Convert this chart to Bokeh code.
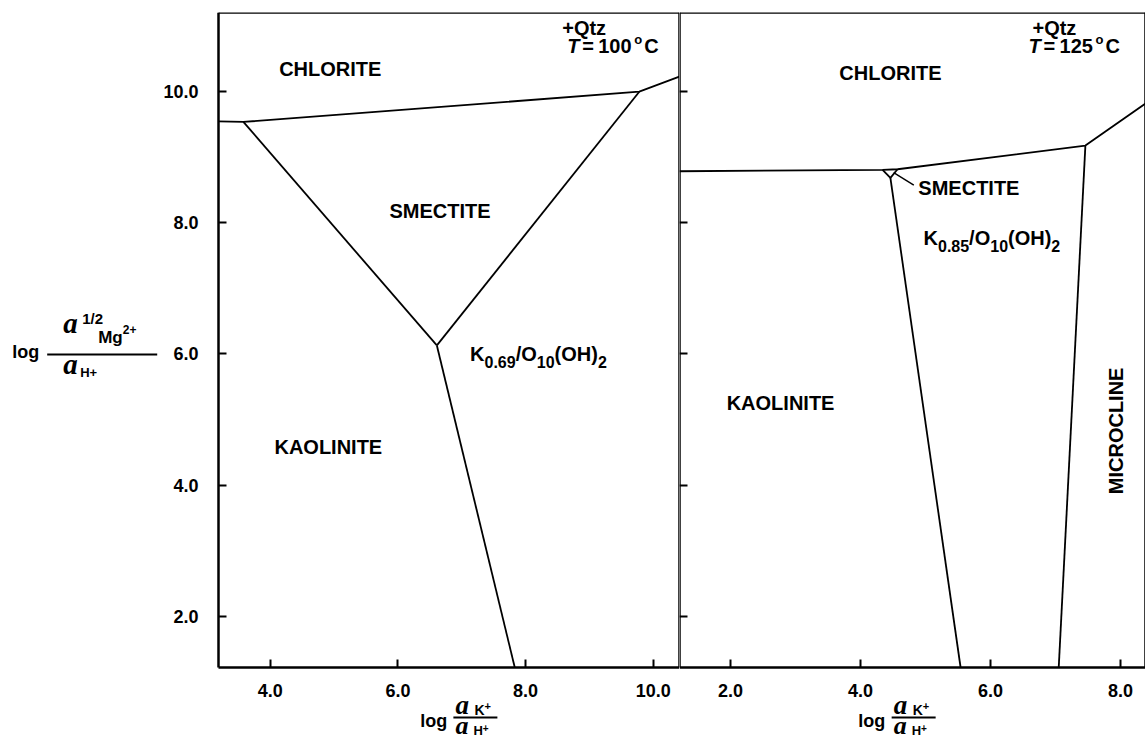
from bokeh.plotting import figure
from bokeh.layouts import row
from bokeh.models import Range1d, FixedTicker, PrintfTickFormatter, Label, Arrow, LinearAxis
from bokeh.embed import file_html
from bokeh.resources import INLINE

# ---------------- data ----------------
# Left panel: +Qtz, T = 100 C ; x = log(aK+/aH+), y = log(aMg2+^1/2 / aH+)
L_xlim = (3.19, 10.41)
L_xticks = [4.0, 6.0, 8.0, 10.0]
ylim = (1.23, 11.195)
yticks = [2.0, 4.0, 6.0, 8.0, 10.0]
L_chl_x = [3.19, 3.58, 9.78, 10.41]      # chlorite lower boundary
L_chl_y = [9.54, 9.53, 9.99, 10.22]
L_sk_x = [3.58, 6.61]                    # smectite / kaolinite
L_sk_y = [9.53, 6.13]
L_sm_x = [6.61, 9.78]                    # smectite / K-mica
L_sm_y = [6.13, 9.99]
L_km_x = [6.61, 7.83]                    # kaolinite / K-mica
L_km_y = [6.13, 1.23]

# Right panel: +Qtz, T = 125 C
R_xlim = (1.215, 8.385)
R_xticks = [2.0, 4.0, 6.0, 8.0]
R_chl_x = [1.215, 4.34, 4.57, 7.46, 8.385]  # chlorite lower boundary
R_chl_y = [8.78, 8.80, 8.81, 9.17, 9.81]
R_sk_x = [4.34, 4.46]                     # smectite / kaolinite
R_sk_y = [8.80, 8.68]
R_sm_x = [4.57, 4.46]                     # smectite / K-mica
R_sm_y = [8.81, 8.68]
R_km_x = [4.46, 5.54]                     # kaolinite / K-mica
R_km_y = [8.68, 1.23]
R_mm_x = [7.46, 7.05]                     # K-mica / microcline
R_mm_y = [9.17, 1.23]
R_lead_x = [4.51, 4.82]                   # leader line to SMECTITE label
R_lead_y = [8.76, 8.57]

# ---------------- layout ----------------
H = 742
TOP = 12
PXY = 65.73                       # px per y unit
Y0 = ylim[0] - (H - 667) / PXY    # frame extends below the x axis for the axis title
L_PX = 63.85
R_PX = 65.0
L_X0 = L_xlim[0] - 218 / L_PX     # frame extends left for the y-axis title

SANS = "Liberation Sans"
SERIF = "Liberation Serif"
# distance (in em) from the middle of the text box down to the baseline
K_MID = {SANS: 0.3465, SERIF: 0.3375}

W = {'K': .722, '0': .556, '1': .556, '2': .556, '3': .556, '4': .556, '5': .556,
     '6': .556, '7': .556, '8': .556, '9': .556, '.': .278, '/': .278, 'O': .778,
     '(': .333, ')': .333, 'H': .722, '+': .584, 'M': .833, 'g': .611, 'a': .5,
     'T': .611, '=': .584, ' ': .278, 'C': .722, 'l': .278, 'o': .611}


def tw(s, size):
    return sum(W.get(c, .6) for c in s) * size


def lab(p, x, y, text, size, align="center", font=SANS, style="bold",
        angle=0.0, x_offset=0):
    p.add_layout(Label(x=x, y=y, text=text, text_font=font,
                       text_font_size=f"{size}px", text_font_style=style,
                       text_align=align, text_baseline="middle",
                       text_color="black", angle=angle, x_offset=x_offset))


def on_base(y_base, size, font=SANS, dy=0.0):
    """data-y of the text-box middle so that the baseline sits dy px below y_base"""
    return y_base - dy / PXY + K_MID[font] * size / PXY


def compose(p, x, y, parts):
    """Texts on a common baseline y (data units).
    parts: (text, size, dy_px_down, font, style, advance_px or None)"""
    off = 0.0
    for text, size, dy, font, style, adv in parts:
        lab(p, x, on_base(y, size, font, dy), text, size, align="left",
            font=font, style=style, x_offset=off)
        off += adv if adv is not None else tw(text, size)


def style_axis(ax, ticks, fmt=True):
    ax.axis_line_width = 2.5
    ax.axis_line_color = "black"
    ax.major_tick_in = 8
    ax.major_tick_out = 0
    ax.major_tick_line_width = 2
    ax.minor_tick_line_color = None
    ax.major_label_text_font = SANS
    ax.major_label_text_font_size = "18px"
    ax.major_label_text_font_style = "bold"
    ax.major_label_text_color = "black"
    ax.ticker = FixedTicker(ticks=ticks)
    if fmt:
        ax.formatter = PrintfTickFormatter(format="%.1f")


def base_fig(width, xr, xticks, yaxis_at, ylabels):
    p = figure(width=width, height=H, x_range=Range1d(*xr), y_range=Range1d(Y0, ylim[1]),
               output_backend="svg", toolbar_location=None,
               min_border_left=0, min_border_right=0,
               min_border_top=TOP, min_border_bottom=0)
    p.xgrid.visible = False
    p.ygrid.visible = False
    p.background_fill_color = "white"
    p.border_fill_color = "white"
    p.outline_line_color = None
    xa, ya = p.xaxis[0], p.yaxis[0]
    style_axis(xa, xticks)
    xa.fixed_location = ylim[0]
    xa.bounds = (yaxis_at, xr[1])
    xa.major_label_standoff = 17
    style_axis(ya, yticks)
    ya.fixed_location = yaxis_at
    ya.bounds = ylim
    ya.major_label_standoff = 20
    if not ylabels:
        ya.major_label_overrides = {t: "" for t in yticks}
    # frame borders: top and right
    top = LinearAxis(fixed_location=ylim[1], bounds=(yaxis_at, xr[1]))
    style_axis(top, [], fmt=False)
    p.add_layout(top, "above")
    rgt = LinearAxis(fixed_location=xr[1], bounds=ylim)
    style_axis(rgt, [], fmt=False)
    p.add_layout(rgt, "right")
    return p


def formula(p, x, y, sub1):
    compose(p, x, y, [
        ("K", 20, 0, SANS, "bold", None),
        (sub1, 16, 7, SANS, "bold", None),
        ("/O", 20, 0, SANS, "bold", None),
        ("10", 16, 7, SANS, "bold", None),
        ("(OH)", 20, 0, SANS, "bold", None),
        ("2", 16, 7, SANS, "bold", None),
    ])


def temp(p, x_qtz, x_t, t_text):
    compose(p, x_qtz, 10.86, [("+Qtz", 20, 0, SANS, "bold", None)])
    compose(p, x_t, 10.587, [
        ("T", 20, 0, SANS, "bold italic", 15),
        ("=", 20, 0, SANS, "bold", 16),
        (t_text, 20, 0, SANS, "bold", 36),
        ("o", 13, -8, SANS, "bold", 10),
        ("C", 20, 0, SANS, "bold", None),
    ])


def xlabel(p, x_log, x_frac, px_per_x):
    compose(p, x_log - 14 / px_per_x, 0.317, [("log", 18, 0, SANS, "bold", None)])
    compose(p, x_frac, 0.515, [
        ("a", 27, 0, SERIF, "bold italic", 19),
        ("K", 14, 0, SANS, "bold", None),
        ("+", 11, -5, SANS, "bold", None),
    ])
    compose(p, x_frac, 0.211, [
        ("a", 26, 0, SERIF, "bold italic", 18),
        ("H", 13, 1, SANS, "bold", None),
        ("+", 10, -3, SANS, "bold", None),
    ])
    p.add_layout(Arrow(end=None, x_start=x_frac - 2 / px_per_x, y_start=0.469,
                       x_end=x_frac + 42 / px_per_x, y_end=0.469,
                       line_color="black", line_width=2))


LW = 1.8

# ---------------- left panel ----------------
pl = base_fig(679, (L_X0, L_xlim[1]), L_xticks, L_xlim[0], True)
for xs, ys in [(L_chl_x, L_chl_y), (L_sk_x, L_sk_y), (L_sm_x, L_sm_y), (L_km_x, L_km_y)]:
    pl.line(xs, ys, line_color="black", line_width=LW)

lab(pl, 4.94, 10.34, "CHLORITE", 20)
lab(pl, 6.66, 8.18, "SMECTITE", 20)
lab(pl, 4.91, 4.59, "KAOLINITE", 20)
temp(pl, 8.573, 8.652, "100")
formula(pl, 7.13, 5.90, "0.69")

# y-axis title (fraction) left of the axis
compose(pl, 0.194 - 15 / L_PX, 5.93, [("log", 18, 0, SANS, "bold", None)])
pl.add_layout(Arrow(end=None, x_start=0.507, y_start=5.99, x_end=2.23, y_end=5.99,
                    line_color="black", line_width=2))
compose(pl, 0.758, 6.327, [
    ("a", 29, 0, SERIF, "bold italic", 19),
    ("1/2", 15, -9, SANS, "bold", None),
])
compose(pl, 1.306, 6.16, [
    ("Mg", 17, 0, SANS, "bold", None),
    ("2+", 12, -10, SANS, "bold", None),
])
compose(pl, 0.758, 5.703, [
    ("a", 29, 0, SERIF, "bold italic", 17),
    ("H+", 13, 4, SANS, "bold", None),
])

xlabel(pl, 6.57, 6.90, L_PX)

# ---------------- right panel ----------------
pr = base_fig(466, R_xlim, R_xticks, R_xlim[0], False)
for xs, ys in [(R_chl_x, R_chl_y), (R_sk_x, R_sk_y), (R_sm_x, R_sm_y),
               (R_km_x, R_km_y), (R_mm_x, R_mm_y)]:
    pr.line(xs, ys, line_color="black", line_width=LW)
pr.line(R_lead_x, R_lead_y, line_color="black", line_width=1.4)

lab(pr, 4.46, 10.27, "CHLORITE", 20)
lab(pr, 4.89, 8.52, "SMECTITE", 20, align="left")
lab(pr, 2.77, 5.25, "KAOLINITE", 20)
lab(pr, 7.93, 4.83, "MICROCLINE", 20, angle=1.5708)
temp(pr, 6.646, 6.585, "125")
formula(pr, 4.97, 7.66, "0.85")
xlabel(pr, 4.18, 4.51, R_PX)

layout = row(pl, pr)
open("out.html", "w").write(file_html(layout, INLINE))
